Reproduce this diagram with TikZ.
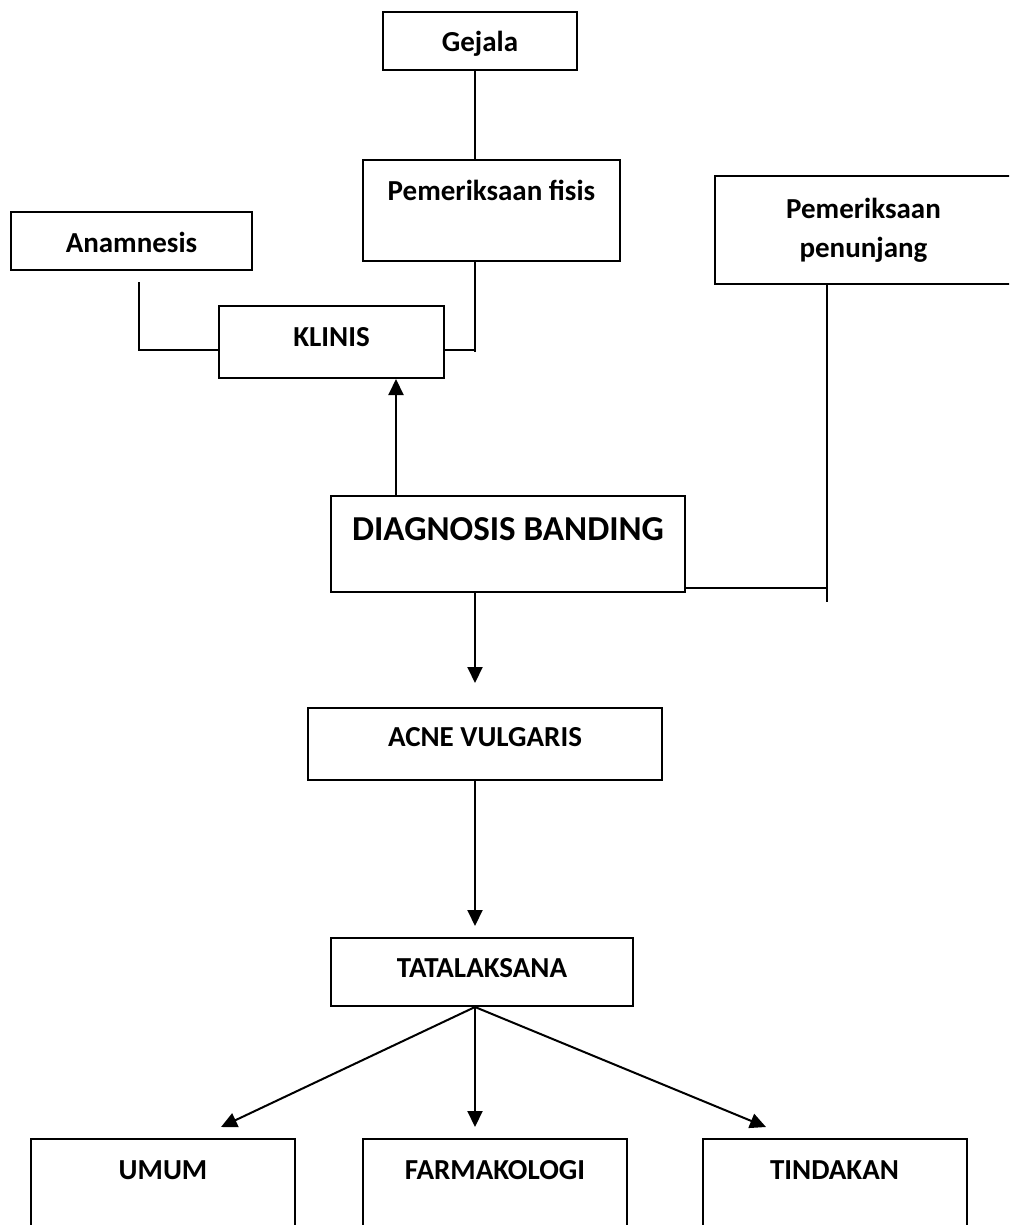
\documentclass[tikz,border=0pt]{standalone}
\usepackage{fontspec}
\setmainfont{Carlito}
\usetikzlibrary{arrows.meta}

\begin{document}
\begin{tikzpicture}[
    x=0.5pt, y=-0.5pt,
    box/.style={draw, line width=1pt, anchor=north, inner xsep=0pt, inner ysep=0pt,
      font=\bfseries\fontsize{14.5}{20.5}\selectfont},
    link/.style={line width=1pt},
    arr/.style={link, -{Triangle[length=8pt, width=7.5pt]}},
  ]
    \useasboundingbox (0,0) rectangle (1009,1225);
    \clip (0,0) rectangle (1009,1225);

    % === Upper part: what leads to the clinical picture ===
    \node[box, minimum width=97pt, text height=20pt, text depth=9pt] (gejala) at (480,11) {Gejala};
    \node[box, minimum width=128.5pt, text height=20.2pt, text depth=30.4pt] (pfisis) at (491.5,159) {Pemeriksaan fisis};
    \node[box, minimum width=120.5pt, text height=20.5pt, text depth=8.5pt] (anam) at (131.5,211) {Anamnesis};
    \node[box, minimum width=112.5pt, text height=20pt, text depth=16pt] (klinis) at (331.5,305) {KLINIS};
    \node[box, minimum width=148.5pt, minimum height=54pt, align=center] (ppen) at (863.5,175) {Pemeriksaan\\[-1pt]penunjang};

    % --- bracket lines into KLINIS ---
    \coordinate (fx) at (475,0);
    \coordinate (kr) at (475,350);
    \coordinate (kl) at (139,350);
    \draw[link] (gejala.south -| fx) -- (pfisis.north -| fx);
    \draw[link] (pfisis.south -| fx) -- ([yshift=-1pt]kr);
    \draw[link] (klinis.east |- kr) -- (kr);
    \draw[link] ([yshift=-5.5pt]anam.south -| kl) -- (kl) -- (klinis.west |- kl);

    % === Middle part ===
    \node[box, minimum width=177pt, text height=22pt, text depth=26pt,
      font=\bfseries\fontsize{17.5}{21}\selectfont] (diag) at (508,495) {DIAGNOSIS BANDING};
    \node[box, minimum width=177pt, text height=19pt, text depth=17pt] (acne) at (485,707) {ACNE VULGARIS};
    \node[box, minimum width=151pt, text height=19.5pt, text depth=14.5pt] (tata) at (482,937) {TATALAKSANA};

    \coordinate (ka) at (396,0);
    \coordinate (ax) at (475,0);
    \coordinate (dr) at (827,588);
    \draw[arr] (diag.north -| ka) -- (klinis.south -| ka);
    \draw[link] (ppen.south -| dr) -- ([yshift=-7pt]dr);
    \draw[link] (diag.east |- dr) -- (dr);
    \draw[arr, shorten >=12pt] (diag.south -| ax) -- (acne.north -| ax);
    \draw[arr, shorten >=5.5pt] (acne.south -| ax) -- (tata.north -| ax);

    % === Bottom row: kinds of treatment ===
    \node[box, minimum width=132pt, text height=20pt, text depth=41pt] (umum) at (163,1138) {UMUM};
    \node[box, minimum width=132pt, text height=20pt, text depth=41pt] (farma) at (495,1138) {FARMAKOLOGI};
    \node[box, minimum width=132pt, text height=20pt, text depth=41pt] (tindak) at (834.5,1138) {TINDAKAN};

    \coordinate (tu) at (221,1127);
    \coordinate (tt) at (766,1127);
    \draw[arr] (tata.south -| ax) -- (tu);
    \draw[arr, shorten >=5.5pt] (tata.south -| ax) -- (farma.north -| ax);
    \draw[arr] (tata.south -| ax) -- (tt);
  \end{tikzpicture}
\end{document}
